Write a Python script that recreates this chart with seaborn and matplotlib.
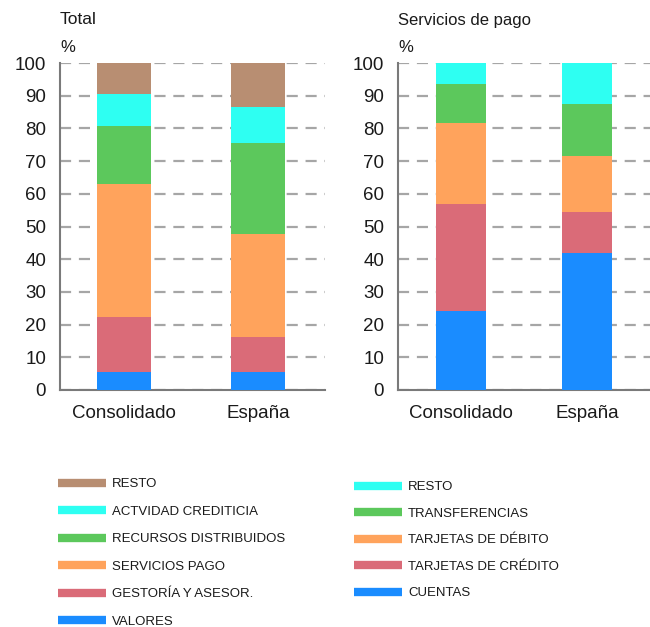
import matplotlib
matplotlib.use("Agg")
import matplotlib.pyplot as plt
import seaborn as sns
import numpy as np
import pandas as pd
from matplotlib.lines import Line2D
from matplotlib import font_manager

sns.set_style("white")
plt.rcParams['font.family'] = ['Liberation Sans', 'DejaVu Sans']

categories = ["Consolidado", "España"]

# Total panel (bottom to top)
total_labels = ["VALORES", "GESTORÍA Y ASESOR.", "SERVICIOS PAGO",
                "RECURSOS DISTRIBUIDOS", "ACTVIDAD CREDITICIA", "RESTO"]
total_valores = [5.5, 5.5]
total_gestoria = [16.8, 10.7]
total_servicios = [40.7, 31.5]
total_recursos = [17.8, 27.8]
total_actividad = [9.7, 11.0]
total_resto = [9.5, 13.5]

# Servicios de pago panel (bottom to top)
pago_labels = ["CUENTAS", "TARJETAS DE CRÉDITO", "TARJETAS DE DÉBITO",
               "TRANSFERENCIAS", "RESTO"]
pago_cuentas = [24.3, 41.8]
pago_credito = [32.7, 12.5]
pago_debito = [24.7, 17.4]
pago_transf = [12.0, 15.8]
pago_resto = [6.3, 12.5]

c_blue = "#1A8CFF"
c_red = "#DA6B78"
c_orange = "#FFA35C"
c_green = "#5CC85C"
c_cyan = "#2EFFF2"
c_brown = "#B88E72"

total_colors = [c_blue, c_red, c_orange, c_green, c_cyan, c_brown]
pago_colors = [c_blue, c_red, c_orange, c_green, c_cyan]

total_series = [total_valores, total_gestoria, total_servicios,
                total_recursos, total_actividad, total_resto]
pago_series = [pago_cuentas, pago_credito, pago_debito, pago_transf, pago_resto]

fig = plt.figure(figsize=(6.5, 6.27), dpi=100)
axL = fig.add_axes([60/650, 1-390/627, 265/650, 327/627])
axR = fig.add_axes([398/650, 1-390/627, 252/650, 327/627])

narrow = font_manager.FontProperties(family=['Liberation Sans Narrow', 'Liberation Sans', 'DejaVu Sans'], size=9.5)

def draw(ax, series, colors, xlim):
    cum = np.cumsum(np.array(series), axis=0)
    for i in range(len(series) - 1, -1, -1):
        df = pd.DataFrame({"cat": categories, "val": cum[i]})
        sns.barplot(data=df, x="cat", y="val", ax=ax, color=colors[i],
                    saturation=1, width=0.4, zorder=3, linewidth=0)
    ax.set_ylim(0, 100)
    ax.set_xlim(*xlim)
    ax.set_yticks(np.arange(0, 101, 10))
    ax.yaxis.grid(True, linestyle=(0, (5, 3.5)), color="#A6A6A6", linewidth=1.6, zorder=0)
    ax.xaxis.grid(False)
    ax.set_axisbelow(True)
    ax.set_xlabel("")
    ax.set_ylabel("")
    for s in ["top", "right"]:
        ax.spines[s].set_visible(False)
    for s in ["left", "bottom"]:
        ax.spines[s].set_color("#7A7A7A")
        ax.spines[s].set_linewidth(1.5)
    ax.set_xticks([0, 1])
    ax.set_xticklabels(categories)
    ax.tick_params(axis="x", length=0, labelsize=13.5, pad=11, colors="#1a1a1a")
    ax.set_xticks([0.5, 1.5], minor=True)
    ax.tick_params(axis="x", which="minor", direction="in", length=5, width=1.5, color="#7A7A7A")
    ax.tick_params(axis="y", length=0, labelsize=13.5, pad=10, colors="#1a1a1a")

draw(axL, total_series, total_colors, (-0.48, 1.5))
draw(axR, pago_series, pago_colors, (-0.5, 1.37))

fig.text(60/650, 1-20/627, "Total", fontsize=12.5, va="center", ha="left", color="#1a1a1a")
fig.text(60/650, 1-47/627, "%", fontsize=12, va="center", ha="left", color="#1a1a1a")
fig.text(398/650, 1-20/627, "Servicios de pago", fontsize=12, va="center", ha="left", color="#1a1a1a")
fig.text(398/650, 1-47/627, "%", fontsize=12, va="center", ha="left", color="#1a1a1a")

def make_legend(labels, colors, x, ytop, spacing):
    handles = [Line2D([0], [0], color=c, lw=6, solid_capstyle="butt") for c in colors]
    leg = fig.legend(handles[::-1], labels[::-1], loc="upper left",
                     bbox_to_anchor=(x, ytop), frameon=False, prop=narrow,
                     handlelength=3.65, handletextpad=0.45, labelspacing=spacing,
                     borderpad=0, borderaxespad=0)
    for t in leg.get_texts():
        t.set_color("#1a1a1a")
    return leg

make_legend(total_labels, total_colors, 58/650, 1-478/627, 1.16)
make_legend(pago_labels, pago_colors, 354/650, 1-481/627, 1.08)

fig.savefig("out.png", dpi=100)
